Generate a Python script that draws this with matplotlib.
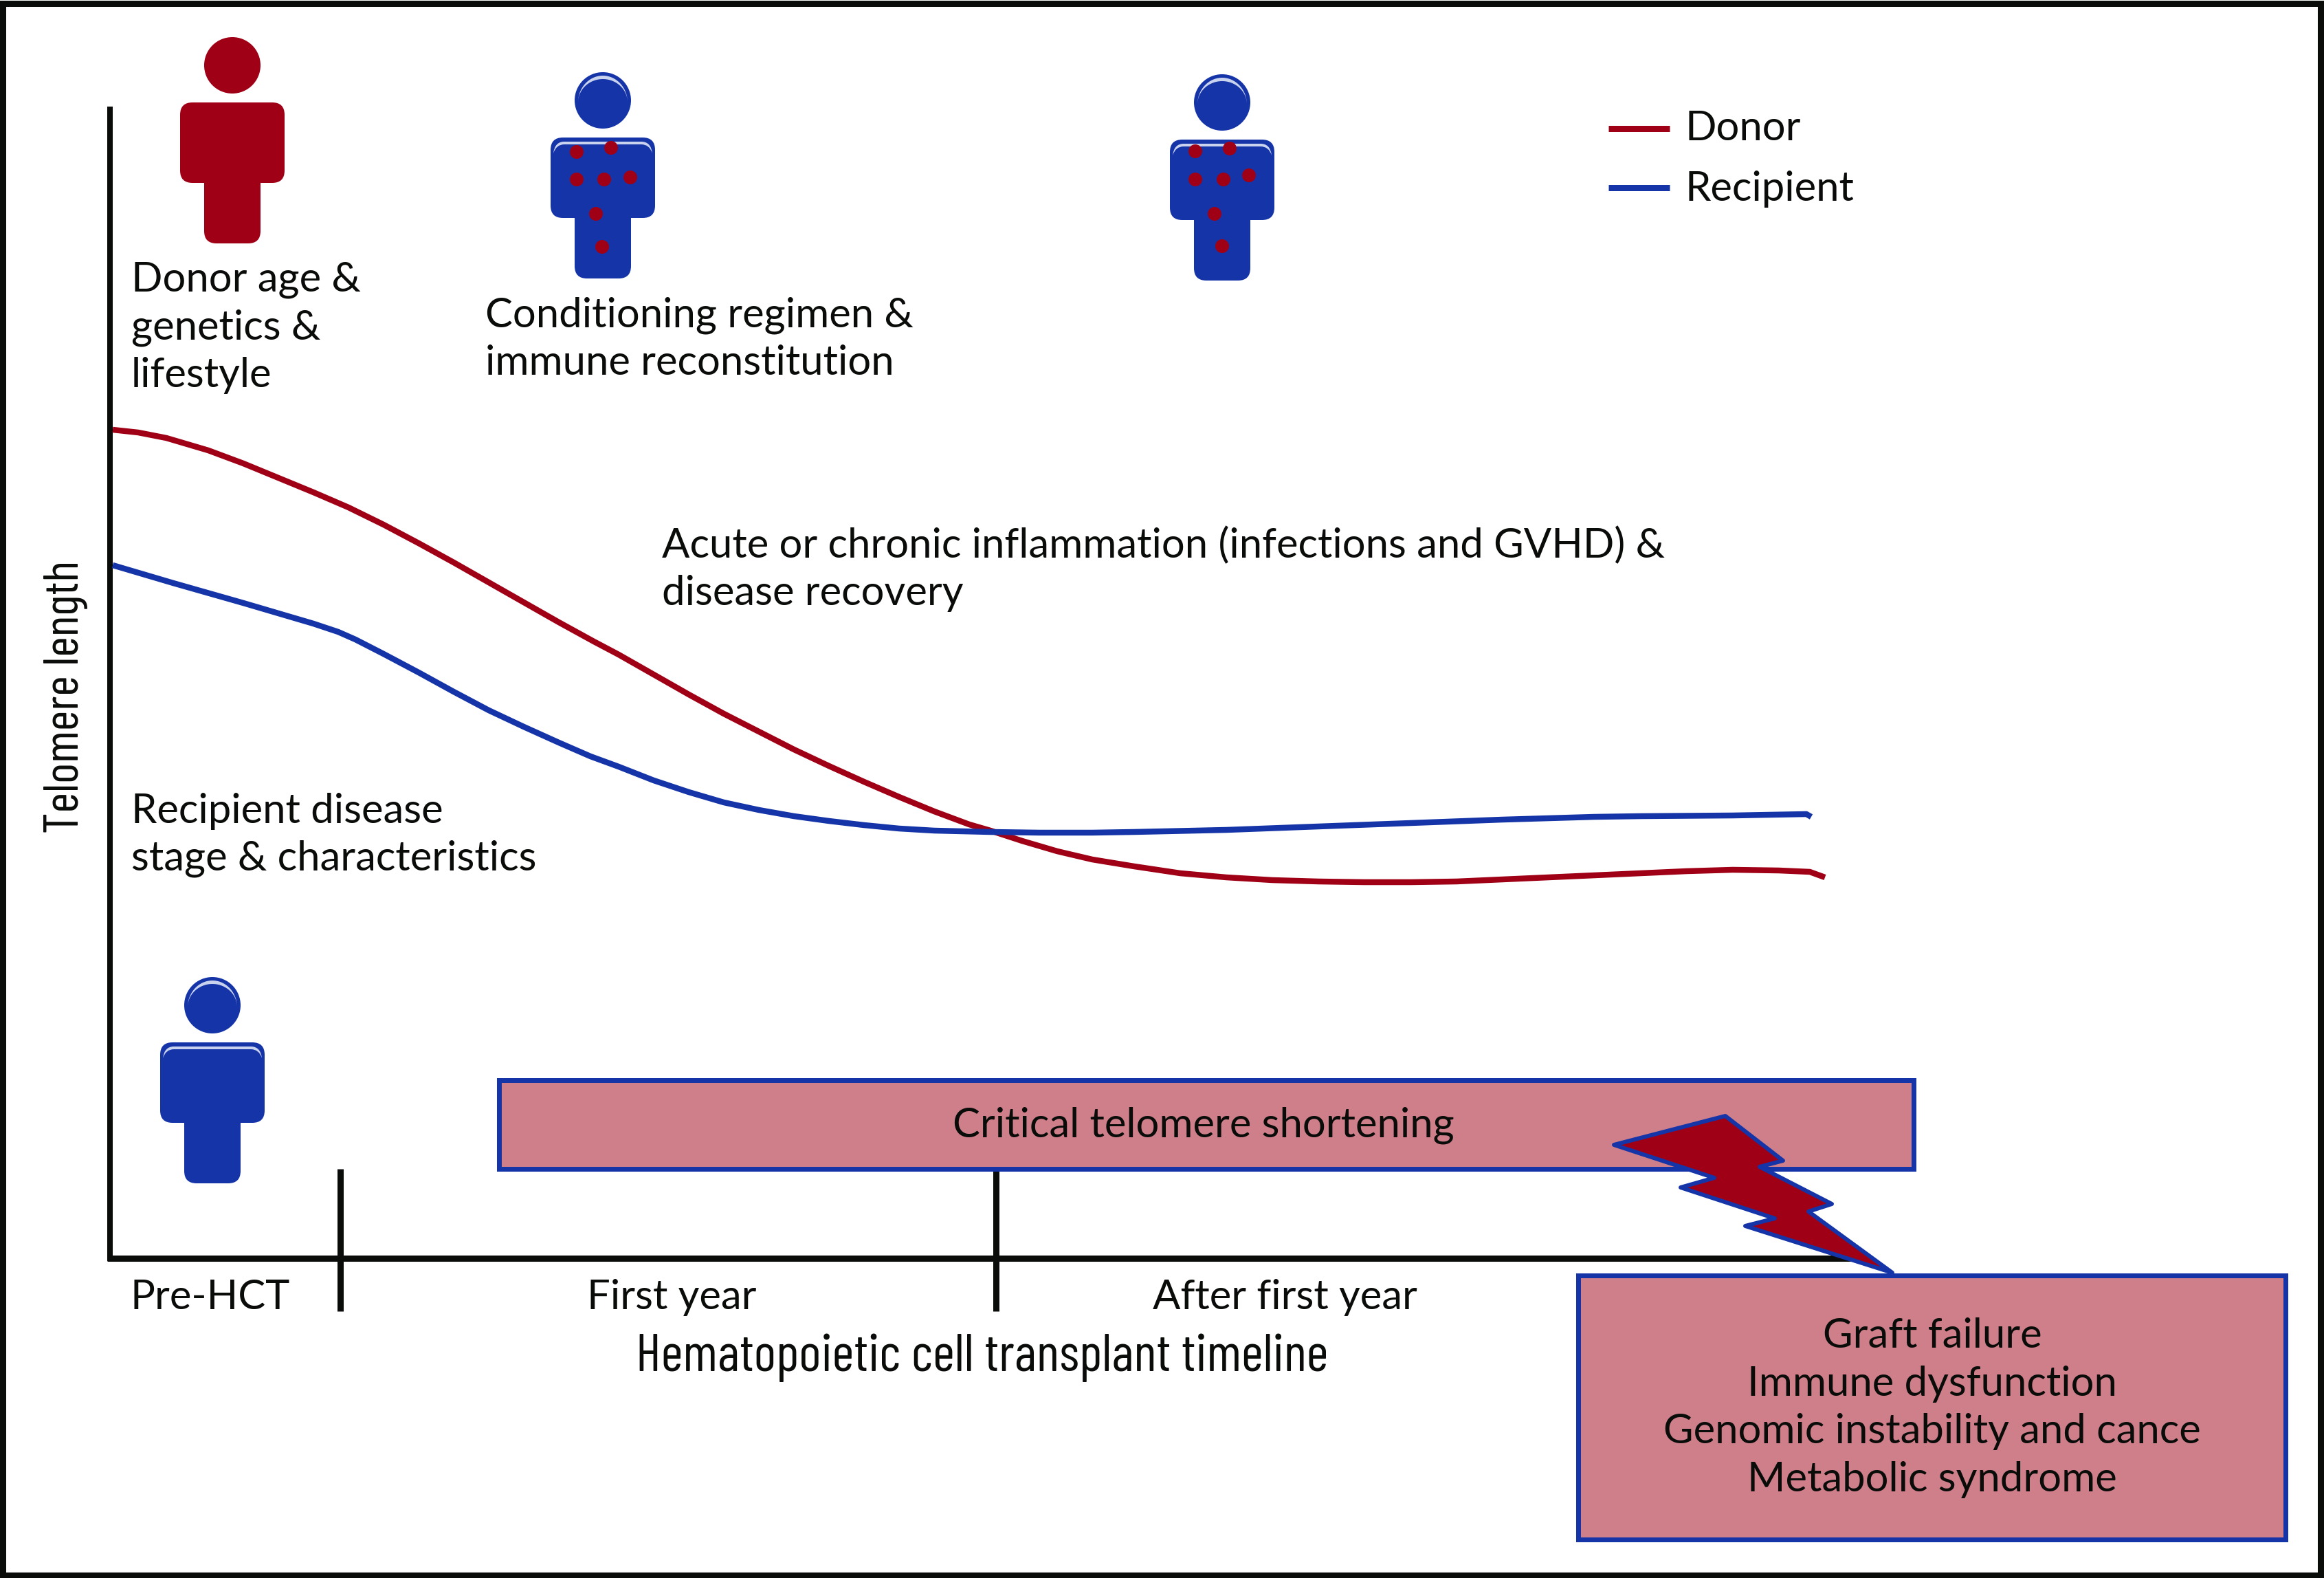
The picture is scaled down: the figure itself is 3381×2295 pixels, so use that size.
import numpy as np
import matplotlib
matplotlib.use('Agg')
import matplotlib.pyplot as plt
from matplotlib.patches import Circle, FancyBboxPatch, PathPatch, Polygon, Rectangle
from matplotlib.path import Path

plt.rcParams['font.family'] = ['Lato', 'DejaVu Sans']

RED = '#A00016'
BLUE = '#1534A8'
PINK = '#CF7F8A'
BLACK = '#0A0C0A'
SHINE = '#C9D3EE'

# curves (figure pixels)
donor_x = [164, 201, 242, 303, 354, 405, 456, 507, 558, 609, 660, 711, 762, 813, 864, 900, 951, 1002, 1053, 1104, 1155,
           1206, 1257, 1308, 1359, 1410, 1441, 1487, 1538, 1589, 1650, 1717, 1784, 1851, 1918, 1985, 2052, 2119, 2186,
           2253, 2320, 2387, 2454, 2521, 2588, 2633, 2655]
donor_y = [625, 629, 637, 655, 674, 695, 716, 738, 763, 790, 818, 847, 876, 905, 933, 952, 981, 1010, 1038, 1064, 1090,
           1114, 1137, 1159, 1180, 1199, 1208, 1223, 1238, 1250, 1260, 1270, 1276, 1280, 1282, 1283, 1283, 1282, 1279,
           1276, 1273, 1270, 1267, 1265, 1266, 1268, 1276]
recipient_x = [164, 252, 354, 456, 492, 517, 558, 609, 660, 711, 762, 813, 859, 900, 951, 1002, 1053, 1104, 1155, 1206,
               1257, 1308, 1359, 1441, 1512, 1589, 1650, 1784, 1918, 2052, 2186, 2320, 2387, 2521, 2628, 2635]
recipient_y = [822, 848, 877, 907, 919, 930, 951, 978, 1006, 1033, 1057, 1080, 1100, 1115, 1135, 1152, 1167, 1178, 1187,
               1194, 1200, 1205, 1208, 1210, 1211, 1211, 1210, 1207, 1202, 1197, 1192, 1188, 1187, 1186, 1184, 1188]

tick_x = [495, 1449]
phase_labels = ['Pre-HCT', 'First year', 'After first year']
phase_x = [190, 854, 1677]

dots_a = [(-38, 75), (12, 69), (-38, 115), (2, 115), (40, 112), (-10, 165), (-1, 213)]
dots_b = [(-39, 71), (11, 67), (-39, 112), (2, 112), (39, 106), (-11, 162), (0, 209)]

bolt_x = [2348, 2510, 2594, 2560, 2665, 2631, 2753, 2539, 2582, 2445, 2494]
bolt_y = [1665, 1623, 1688, 1697, 1751, 1762, 1851, 1783, 1772, 1727, 1713]

outcomes = ['Graft failure', 'Immune dysfunction', 'Genomic instability and cance', 'Metabolic syndrome']
outcome_y = [1960, 2030, 2099, 2169]

PX = 72 / 100  # line widths below are given in pixels

fig = plt.figure(figsize=(33.81, 22.95), dpi=100)
ax = fig.add_axes([0, 0, 1, 1])
ax.set_xlim(0, 3381)
ax.set_ylim(2295, 0)
ax.axis('off')


def person(cx, cy, color, dots=None, shine=False):
    ax.add_patch(Circle((cx, cy), 41, fc=color, ec='none', zorder=3))
    ax.add_patch(FancyBboxPatch((cx - 41, cy + 120), 82, 139, boxstyle='round,pad=0,rounding_size=18',
                                fc=color, ec='none', zorder=3))
    ax.add_patch(FancyBboxPatch((cx - 76, cy + 54), 152, 117, boxstyle='round,pad=0,rounding_size=18',
                                fc=color, ec='none', zorder=3))
    if shine:
        # crescent on the head
        t = np.linspace(np.pi, 2 * np.pi, 40)
        outer = np.c_[cx + 36 * np.cos(t), cy + 3 + 39 * np.sin(t)]
        inner = np.c_[cx + 36 * np.cos(t), cy + 3 + 34 * np.sin(t)][::-1]
        ax.add_patch(Polygon(np.r_[outer, inner], fc=SHINE, ec='none', zorder=4))
        # band on the shoulders
        verts = [(cx - 72, cy + 77), (cx - 70, cy + 60), (cx - 56, cy + 60), (cx + 56, cy + 60),
                 (cx + 70, cy + 60), (cx + 72, cy + 77), (cx + 68, cy + 64), (cx + 56, cy + 64),
                 (cx - 56, cy + 64), (cx - 68, cy + 64), (cx - 72, cy + 77)]
        codes = [Path.MOVETO, Path.CURVE3, Path.CURVE3, Path.LINETO, Path.CURVE3, Path.CURVE3,
                 Path.CURVE3, Path.CURVE3, Path.LINETO, Path.CURVE3, Path.CURVE3]
        ax.add_patch(PathPatch(Path(verts, codes), fc=SHINE, ec='none', zorder=4))
    for dx, dy in dots or []:
        ax.add_patch(Circle((cx + dx, cy + dy), 10, fc=RED, ec='none', zorder=5))


def label(x, y, s, ha='left', size=43, **kw):
    ax.text(x, y, s, ha=ha, va='baseline', fontsize=size, color=BLACK, zorder=8, **kw)


# outer frame
ax.add_patch(Rectangle((4.5, 4.5), 3372, 2286, fc='none', ec=BLACK, lw=9 * PX, zorder=9))

# axes
ax.plot([160, 160], [155, 1834], color=BLACK, lw=8 * PX, solid_capstyle='butt', zorder=2)
ax.plot([156, 2700], [1829.5, 1829.5], color=BLACK, lw=9 * PX, solid_capstyle='butt', zorder=2)
for x in tick_x:
    ax.plot([x, x], [1700, 1907], color=BLACK, lw=9 * PX, solid_capstyle='butt', zorder=2)

# curves
ax.plot(donor_x, donor_y, color=RED, lw=8.5 * PX, solid_capstyle='butt', solid_joinstyle='round', zorder=3)
ax.plot(recipient_x, recipient_y, color=BLUE, lw=8.5 * PX, solid_capstyle='butt', solid_joinstyle='round', zorder=4)

# legend
ax.plot([2340, 2429], [187, 187], color=RED, lw=9 * PX, solid_capstyle='butt')
ax.plot([2340, 2429], [273, 273], color=BLUE, lw=9 * PX, solid_capstyle='butt')
label(2452, 204, 'Donor')
label(2452, 292, 'Recipient')

# people
person(338, 95, RED)
person(877, 146, BLUE, dots_a, shine=True)
person(1778, 149, BLUE, dots_b, shine=True)
person(309, 1462, BLUE, shine=True)

# annotations
label(191, 423, 'Donor age &')
label(191, 493, 'genetics &')
label(191, 563, 'lifestyle')
label(706, 475, 'Conditioning regimen &')
label(706, 545, 'immune reconstitution')
label(963, 811, 'Acute or chronic inflammation (infections and GVHD) &')
label(963, 880, 'disease recovery')
label(191, 1197, 'Recipient disease')
label(191, 1266, 'stage & characteristics')

# boxes and bolt
ax.add_patch(Rectangle((726.5, 1571), 2058, 129, fc=PINK, ec=BLUE, lw=7 * PX, zorder=3))
label(1751, 1654, 'Critical telomere shortening', ha='center')
ax.add_patch(Polygon(np.c_[bolt_x, bolt_y], closed=True, fc=RED, ec=BLUE, lw=6 * PX, joinstyle='round', zorder=5))
ax.add_patch(Rectangle((2296.5, 1855), 1029, 384, fc=PINK, ec=BLUE, lw=7 * PX, zorder=6))
for s, y in zip(outcomes, outcome_y):
    label(2811, y, s, ha='center')

# timeline labels
for s, x in zip(phase_labels, phase_x):
    label(x, 1904, s)
cond = ['Barlow Condensed', 'Liberation Sans Narrow', 'Roboto', 'DejaVu Sans']
label(1429, 1994, 'Hematopoietic cell transplant timeline', ha='center', size=56, family=cond)
ax.text(96, 1013, 'Telomere length', rotation=90, ha='center', va='center', fontsize=52, family=cond, color=BLACK)

fig.savefig('out.png', dpi=100)
